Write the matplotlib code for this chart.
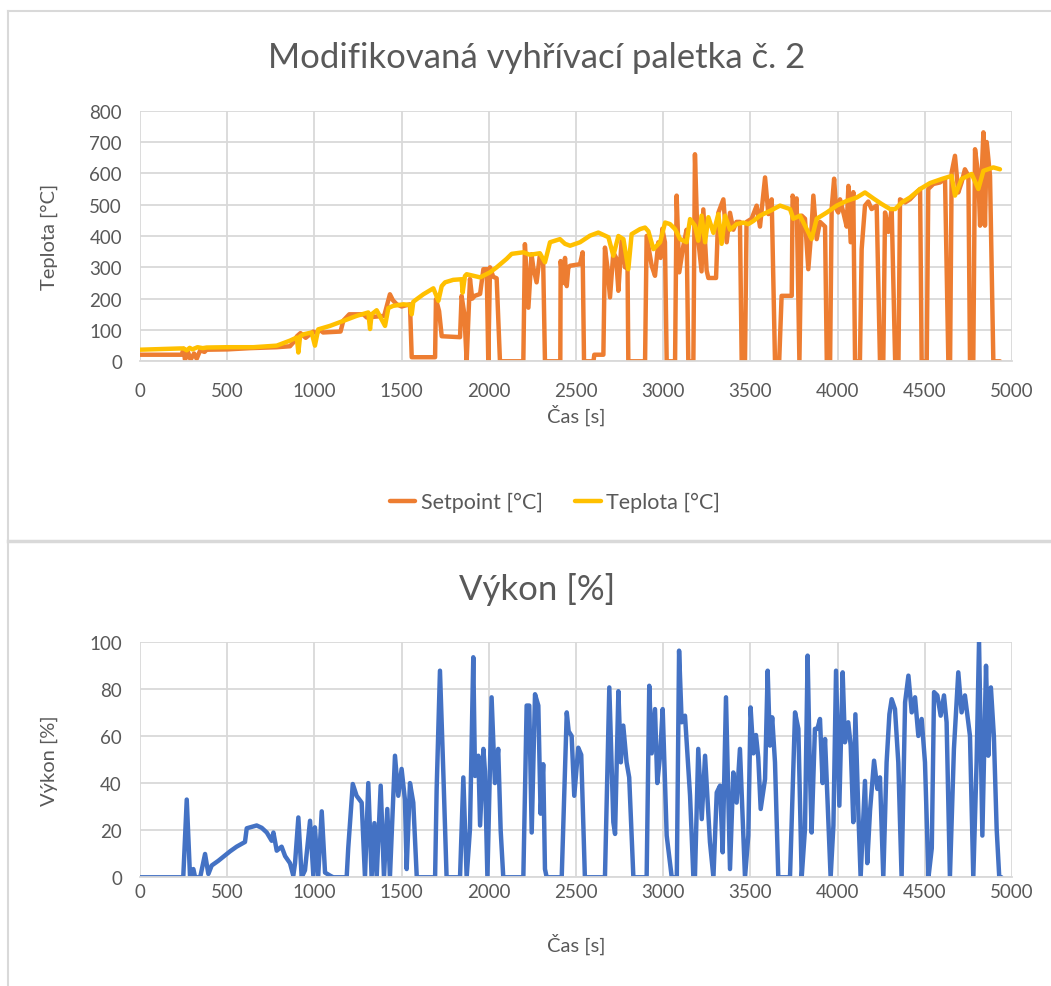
import matplotlib
matplotlib.use("Agg")
import matplotlib.pyplot as plt
from matplotlib.lines import Line2D

plt.rcParams['font.family'] = ['Lato', 'DejaVu Sans']

# ---------------- data ----------------
# Setpoint [°C]
setpoint_t = [0, 239, 250, 258, 275, 290, 310, 325, 345, 370, 382, 500, 631, 784, 860, 879, 900, 920, 950,
              994, 1013, 1032, 1050, 1150, 1166, 1200, 1281, 1300, 1400, 1433, 1450, 1472, 1500, 1548, 1558,
              1692, 1697, 1715, 1730, 1835, 1844, 1860, 1873, 1892, 1905, 1920, 1950, 1969, 1988, 1997, 2007,
              2025, 2045, 2064, 2198, 2207, 2227, 2245, 2255, 2274, 2293, 2312, 2322, 2410,
              2412, 2425, 2437, 2447, 2456, 2466, 2523, 2538, 2546, 2600, 2605, 2657, 2666, 2680, 2695, 2714,
              2730, 2743, 2762, 2781, 2795, 2800, 2896, 2905, 2934, 2953, 2972, 2985, 2995, 3010, 3020, 3068,
              3077, 3092, 3115, 3134, 3144, 3173, 3182, 3195, 3220, 3230, 3249, 3259, 3303, 3316, 3345, 3364,
              3383, 3402, 3420, 3440, 3450, 3469, 3478, 3507, 3536, 3555, 3584, 3603, 3622, 3641, 3665, 3679,
              3737, 3742, 3755, 3765, 3781, 3794, 3813, 3832, 3850, 3861, 3880, 3899, 3928, 3938, 3957, 3966,
              3980, 3991, 4004, 4014, 4033, 4052, 4062, 4075, 4090, 4100, 4128, 4138, 4157, 4176, 4195, 4224,
              4243, 4262, 4272, 4291, 4310, 4330, 4349, 4358, 4387, 4415, 4454, 4473, 4482, 4511, 4520, 4549,
              4587, 4616, 4635, 4645, 4654, 4673, 4692, 4711, 4730, 4750, 4759, 4778, 4788, 4807, 4817, 4826,
              4836, 4845, 4855, 4874, 4893, 4931]
setpoint_v = [21, 21, 40, 5, 30, 5, 25, 8, 35, 30, 37, 38, 42, 45, 48, 60, 80, 90, 75,
              95, 90, 100, 92, 95, 130, 150, 150, 140, 145, 214, 195, 182, 175, 182, 13,
              13, 198, 160, 80, 77, 209, 150, 0, 263, 200, 209, 215, 294, 294, 0, 300,
              270, 265, 0, 0, 374, 171, 342, 300, 252, 340, 310, 0, 0,
              320, 250, 330, 240, 300, 305, 310, 348, 0, 0, 21, 21, 363, 300, 204, 348,
              330, 225, 390, 300, 330, 0, 0, 400, 305, 273, 380, 330, 423, 380, 0, 0,
              529, 284, 367, 420, 0, 0, 661, 420, 287, 485, 290, 266, 266, 474, 517, 380,
              474, 420, 445, 445, 0, 0, 445, 455, 497, 430, 587, 470, 517, 0, 0, 209,
              209, 529, 500, 520, 0, 465, 455, 294, 420, 529, 390, 445, 430, 0, 0, 488,
              583, 488, 475, 517, 475, 430, 560, 380, 540, 0, 0, 358, 497, 510, 486, 497,
              0, 0, 475, 413, 486, 0, 0, 517, 507, 517, 540, 550, 0, 0, 550, 566,
              571, 582, 0, 0, 603, 656, 539, 571, 613, 592, 0, 0, 677, 592, 433, 592,
              731, 433, 700, 592, 0, 0]

# Teplota [°C]
temp_t = [0, 229, 250, 268, 285, 300, 330, 360, 382, 500, 650, 784, 860, 899, 908, 918, 937, 984, 1003,
          1022, 1089, 1166, 1242, 1309, 1319, 1328, 1357, 1405, 1424, 1452, 1510, 1548, 1558, 1567, 1586,
          1625, 1682, 1711, 1730, 1749, 1796, 1844, 1850, 1863, 1873, 1950, 2007, 2045, 2102, 2131, 2198,
          2236, 2293, 2322, 2351, 2408, 2437, 2466, 2523, 2580, 2628, 2686, 2714, 2743, 2772, 2800, 2819,
          2867, 2896, 2915, 2944, 2982, 3011, 3039, 3068, 3097, 3134, 3154, 3182, 3201, 3220, 3240, 3259,
          3288, 3316, 3335, 3355, 3383, 3421, 3459, 3488, 3517, 3555, 3612, 3670, 3727, 3746, 3784, 3813,
          3851, 3880, 3938, 3995, 4052, 4110, 4157, 4205, 4253, 4301, 4330, 4368, 4415, 4473, 4530, 4597,
          4654, 4673, 4711, 4769, 4807, 4836, 4893, 4931]
temp_v = [37, 41, 41, 35, 43, 38, 45, 42, 44, 45, 45, 50, 66, 76, 28, 80, 86, 92, 50,
          102, 113, 129, 145, 156, 103, 150, 163, 113, 170, 177, 182, 180, 150, 190, 198,
          214, 233, 193, 240, 252, 260, 262, 219, 272, 278, 268, 284, 300, 327, 343, 348,
          340, 345, 316, 380, 390, 375, 369, 380, 401, 411, 396, 337, 400, 390, 294, 406,
          422, 427, 415, 358, 380, 443, 438, 422, 390, 380, 454, 433, 385, 465, 380, 460,
          410, 470, 375, 465, 420, 438, 443, 438, 448, 465, 480, 497, 486, 455, 465, 433,
          390, 455, 475, 497, 512, 523, 539, 520, 502, 486, 486, 507, 523, 550, 569, 582,
          592, 529, 582, 598, 550, 608, 619, 613]

# Výkon [%]
power_t = [0, 248, 268, 287, 306, 316, 345, 373, 392, 411, 449, 516, 554, 602, 612, 669, 698, 727, 755,
           765, 784, 812, 832, 860, 879, 889, 908, 927, 946, 975, 994, 1003, 1022, 1042, 1061, 1090, 1108,
           1185, 1194, 1220, 1242, 1271, 1290, 1309, 1328, 1344, 1357, 1380, 1399, 1418, 1433, 1462, 1481,
           1500, 1519, 1529, 1548, 1567, 1587, 1692, 1701, 1720, 1739, 1758, 1835, 1854, 1873, 1892, 1911,
           1921, 1940, 1950, 1969, 1978, 1992, 2016, 2035, 2054, 2068, 2083, 2198, 2217, 2232, 2246, 2265,
           2284, 2297, 2312, 2322, 2332, 2418, 2447, 2458, 2475, 2490, 2513, 2530, 2551, 2666, 2691, 2714,
           2724, 2743, 2757, 2771, 2790, 2805, 2829, 2905, 2920, 2934, 2953, 2966, 2982, 2997, 3020, 3049,
           3078, 3091, 3106, 3125, 3154, 3173, 3182, 3201, 3221, 3240, 3268, 3288, 3307, 3326, 3341, 3360,
           3383, 3402, 3421, 3440, 3469, 3488, 3501, 3517, 3532, 3545, 3559, 3584, 3599, 3612, 3625, 3641,
           3660, 3727, 3756, 3775, 3794, 3813, 3828, 3841, 3851, 3870, 3884, 3899, 3914, 3928, 3947, 3960,
           3976, 3991, 4010, 4029, 4042, 4061, 4075, 4090, 4102, 4119, 4132, 4157, 4170, 4186, 4209, 4228,
           4243, 4262, 4281, 4297, 4310, 4329, 4348, 4367, 4387, 4406, 4425, 4444, 4463, 4482, 4501, 4521,
           4540, 4553, 4572, 4591, 4610, 4625, 4644, 4667, 4692, 4711, 4730, 4759, 4778, 4797, 4811, 4830,
           4851, 4864, 4879, 4896, 4912, 4927, 4940]
power_v = [0, 0, 33, 0, 3.5, 0, 0, 9.9, 1.4, 5, 7, 11, 13, 15, 20.8, 22, 21, 19, 15.5,
           19, 11.3, 13, 9, 6, 0.7, 6, 25.4, 0, 3, 24, 0.7, 21.2, 0.7, 28, 2, 0.7, 0,
           0, 12.4, 39.6, 34.6, 31.7, 0, 40, 0, 23, 0, 38.9, 0, 29, 0, 51.6, 34.6,
           46, 33, 3.5, 40, 31.7, 0, 0, 37.5, 87.7, 45, 0, 0, 42.4, 0, 20.5, 93.4,
           43, 51.6, 22, 54.5, 45, 0, 76.4, 40, 54.5, 20, 0, 0, 72.9, 72.9, 19, 77.7,
           72.9, 27, 48, 3.5, 0, 0, 70, 62, 60, 34.6, 55, 52, 0, 0, 80.6, 23.4,
           18.4, 79, 48.8, 64.4, 48.8, 42.4, 0, 0, 81.3, 52.6, 71.4, 40, 51.6, 71.4, 17.7, 0,
           0, 96.2, 65.8, 68.6, 34.6, 0, 0, 54.5, 24.7, 51.6, 15, 0, 36, 38.9, 10.6, 76.4,
           3.5, 44.5, 31.7, 54.5, 0, 17.7, 72.1, 52.6, 60.4, 50.9, 29, 41.7, 87.7, 55.9, 67.9, 48.8,
           0, 0, 70, 63, 0, 20.5, 94.1, 46, 19, 63, 63, 67.2, 40, 58.7, 23.4, 0,
           22, 87.7, 30.4, 87, 57.3, 65.8, 55.9, 23.4, 69.2, 27.5, 0, 40.9, 6, 28.3, 49.5, 37.5,
           42.4, 0, 48.8, 69.2, 75.6, 71.4, 48.8, 0, 74.3, 85.6, 70, 76.4, 60, 67.2, 48.8, 0,
           12.3, 78.6, 77.2, 68.6, 77.2, 65.8, 0, 54.5, 87, 70, 77.2, 60, 0, 48.8, 100, 17.7,
           89.8, 51.6, 80.6, 60, 20.5, 0, 0]

x_ticks = list(range(0, 5001, 500))
temp_ticks = list(range(0, 801, 100))
power_ticks = list(range(0, 101, 20))

# ---------------- styling ----------------
W, H = 1051, 987
TEXT = '#595959'
GRID = '#D9D9D9'
C_SET = '#ED7D31'
C_TEMP = '#FFC000'
C_POW = '#4472C4'
LW = 3.2

fig = plt.figure(figsize=(W / 100, H / 100), dpi=100)


def rect(x0, y0, x1, y1):
    return [x0 / W, 1 - y1 / H, (x1 - x0) / W, (y1 - y0) / H]


def style_axes(ax, yticks, ylim, xpad):
    ax.set_xlim(0, 5000)
    ax.set_ylim(*ylim)
    ax.set_xticks(x_ticks)
    ax.set_yticks(yticks)
    ax.grid(True, color=GRID, lw=1.3)
    ax.set_axisbelow(True)
    for s in ('top', 'right', 'left'):
        ax.spines[s].set_visible(False)
    ax.spines['bottom'].set_color(GRID)
    ax.spines['bottom'].set_linewidth(1.3)
    ax.tick_params(length=0, labelsize=13.5, labelcolor=TEXT)
    ax.tick_params(axis='x', pad=xpad)
    ax.tick_params(axis='y', pad=13)


# top chart
ax1 = fig.add_axes(rect(140, 111.7, 1012, 362.3))
style_axes(ax1, temp_ticks, (0, 800), 15)
l1, = ax1.plot(setpoint_t, setpoint_v, color=C_SET, lw=LW, solid_joinstyle='round', solid_capstyle='round')
l2, = ax1.plot(temp_t, temp_v, color=C_TEMP, lw=LW, solid_joinstyle='round', solid_capstyle='round')
ax1.set_xlabel('Čas [s]', fontsize=14.5, color=TEXT)
ax1.set_ylabel('Teplota [°C]', fontsize=14.5, color=TEXT)
ax1.xaxis.set_label_coords(0.5, -42 / 250.6)
ax1.yaxis.set_label_coords(-82 / 872, 0.5)
fig.text(537 / W, 1 - 58 / H, 'Modifikovaná vyhřívací paletka č. 2', ha='center', va='center',
         fontsize=25, color=TEXT)
leg = fig.legend([l1, l2], ['Setpoint [°C]', 'Teplota [°C]'], loc='center',
                 bbox_to_anchor=(555 / W, 1 - 503 / H), ncol=2, frameon=False, fontsize=15.5,
                 labelcolor=TEXT, handlelength=1.2, handletextpad=0.25, columnspacing=1.5)

# bottom chart
ax2 = fig.add_axes(rect(140, 642.7, 1012, 878.3))
style_axes(ax2, power_ticks, (0, 100), 4)
ax2.plot(power_t, power_v, color=C_POW, lw=LW, solid_joinstyle='round', solid_capstyle='round')
ax2.set_xlabel('Čas [s]', fontsize=14.5, color=TEXT)
ax2.set_ylabel('Výkon [%]', fontsize=14.5, color=TEXT)
ax2.xaxis.set_label_coords(0.5, -55 / 235.6)
ax2.yaxis.set_label_coords(-82 / 872, 0.5)
fig.text(537 / W, 1 - 590 / H, 'Výkon [%]', ha='center', va='center', fontsize=25, color=TEXT)

# chart-area borders
for xs, ys, lw in [((7.5, W), (12, 12), 1.5), ((7.5, 7.5), (12, H), 1.5), ((7.5, W), (541.5, 541.5), 2.5)]:
    fig.add_artist(Line2D([x / W for x in xs], [1 - y / H for y in ys], transform=fig.transFigure,
                          color=GRID, lw=lw))

fig.savefig('out.png', dpi=100, facecolor='white')
